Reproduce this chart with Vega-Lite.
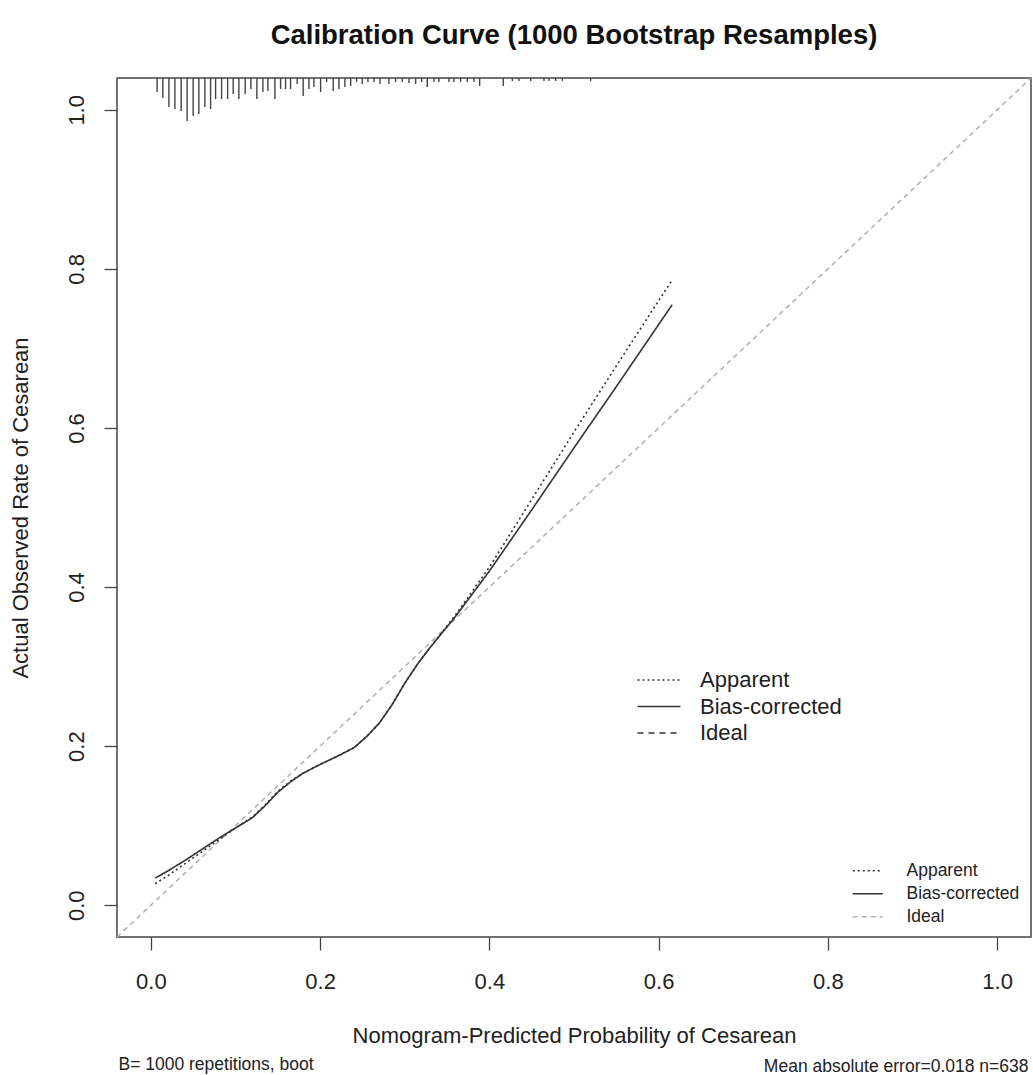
{
  "$schema": "https://vega.github.io/schema/vega-lite/v6.json",
  "width": 914,
  "height": 859,
  "autosize": {"type": "none"},
  "padding": {"left": 117, "top": 78, "right": 2, "bottom": 138},
  "background": "white",
  "title": {
    "text": "Calibration Curve (1000 Bootstrap Resamples)",
    "font": "Liberation Sans",
    "fontSize": 27.5,
    "fontWeight": "bold",
    "color": "#111111",
    "anchor": "middle",
    "baseline": "alphabetic",
    "offset": 6
  },
  "config": {
    "font": "Liberation Sans",
    "view": {"stroke": "#444444", "strokeWidth": 1.5},
    "axis": {"grid": false}
  },
  "resolve": {
    "axis": {"x": "independent"},
    "scale": {"color": "independent", "strokeDash": "independent"},
    "legend": {"color": "independent", "strokeDash": "independent"}
  },
  "datasets": {
    "ideal": [
      {"series": "Ideal", "p": -0.04, "o": -0.04},
      {"series": "Ideal", "p": 1.04, "o": 1.04}
    ],
    "curves": [
      {"series": "Apparent", "p": 0.005, "o": 0.027},
      {"series": "Apparent", "p": 0.02, "o": 0.037},
      {"series": "Apparent", "p": 0.04, "o": 0.052},
      {"series": "Apparent", "p": 0.06, "o": 0.067},
      {"series": "Apparent", "p": 0.08, "o": 0.082},
      {"series": "Apparent", "p": 0.1, "o": 0.097},
      {"series": "Apparent", "p": 0.12, "o": 0.111},
      {"series": "Apparent", "p": 0.135, "o": 0.126},
      {"series": "Apparent", "p": 0.15, "o": 0.143},
      {"series": "Apparent", "p": 0.165, "o": 0.156},
      {"series": "Apparent", "p": 0.18, "o": 0.166},
      {"series": "Apparent", "p": 0.2, "o": 0.177},
      {"series": "Apparent", "p": 0.22, "o": 0.187},
      {"series": "Apparent", "p": 0.24, "o": 0.198},
      {"series": "Apparent", "p": 0.255, "o": 0.212},
      {"series": "Apparent", "p": 0.27, "o": 0.229},
      {"series": "Apparent", "p": 0.285, "o": 0.252},
      {"series": "Apparent", "p": 0.3, "o": 0.279},
      {"series": "Apparent", "p": 0.315, "o": 0.303},
      {"series": "Apparent", "p": 0.33, "o": 0.324},
      {"series": "Apparent", "p": 0.36, "o": 0.365},
      {"series": "Apparent", "p": 0.4, "o": 0.425},
      {"series": "Apparent", "p": 0.45, "o": 0.51},
      {"series": "Apparent", "p": 0.5, "o": 0.595},
      {"series": "Apparent", "p": 0.55, "o": 0.678},
      {"series": "Apparent", "p": 0.6, "o": 0.76},
      {"series": "Apparent", "p": 0.616, "o": 0.786},
      {"series": "Bias-corrected", "p": 0.005, "o": 0.034},
      {"series": "Bias-corrected", "p": 0.02, "o": 0.043},
      {"series": "Bias-corrected", "p": 0.04, "o": 0.056},
      {"series": "Bias-corrected", "p": 0.06, "o": 0.07},
      {"series": "Bias-corrected", "p": 0.08, "o": 0.084},
      {"series": "Bias-corrected", "p": 0.1, "o": 0.097},
      {"series": "Bias-corrected", "p": 0.12, "o": 0.11},
      {"series": "Bias-corrected", "p": 0.135, "o": 0.125},
      {"series": "Bias-corrected", "p": 0.15, "o": 0.142},
      {"series": "Bias-corrected", "p": 0.165, "o": 0.155},
      {"series": "Bias-corrected", "p": 0.18, "o": 0.166},
      {"series": "Bias-corrected", "p": 0.2, "o": 0.177},
      {"series": "Bias-corrected", "p": 0.22, "o": 0.187},
      {"series": "Bias-corrected", "p": 0.24, "o": 0.198},
      {"series": "Bias-corrected", "p": 0.255, "o": 0.212},
      {"series": "Bias-corrected", "p": 0.27, "o": 0.229},
      {"series": "Bias-corrected", "p": 0.285, "o": 0.252},
      {"series": "Bias-corrected", "p": 0.3, "o": 0.279},
      {"series": "Bias-corrected", "p": 0.315, "o": 0.303},
      {"series": "Bias-corrected", "p": 0.33, "o": 0.324},
      {"series": "Bias-corrected", "p": 0.36, "o": 0.363},
      {"series": "Bias-corrected", "p": 0.4, "o": 0.42},
      {"series": "Bias-corrected", "p": 0.45, "o": 0.497},
      {"series": "Bias-corrected", "p": 0.5, "o": 0.575},
      {"series": "Bias-corrected", "p": 0.55, "o": 0.652},
      {"series": "Bias-corrected", "p": 0.6, "o": 0.73},
      {"series": "Bias-corrected", "p": 0.616, "o": 0.755}
    ],
    "rug": [
      {"p": 0.0074, "end": 1.0224},
      {"p": 0.0142, "end": 1.0148},
      {"p": 0.0213, "end": 1.0035},
      {"p": 0.0284, "end": 1.001},
      {"p": 0.0358, "end": 0.9985},
      {"p": 0.0429, "end": 0.9859},
      {"p": 0.05, "end": 0.9922},
      {"p": 0.0567, "end": 0.9947},
      {"p": 0.0638, "end": 1.0035},
      {"p": 0.0706, "end": 1.001},
      {"p": 0.0765, "end": 1.0136},
      {"p": 0.0836, "end": 1.0136},
      {"p": 0.0907, "end": 1.0136},
      {"p": 0.0973, "end": 1.0199},
      {"p": 0.104, "end": 1.0136},
      {"p": 0.1115, "end": 1.0199},
      {"p": 0.1182, "end": 1.0262},
      {"p": 0.1253, "end": 1.0136},
      {"p": 0.1324, "end": 1.0224},
      {"p": 0.1383, "end": 1.0236},
      {"p": 0.1466, "end": 1.0136},
      {"p": 0.1533, "end": 1.0262},
      {"p": 0.1592, "end": 1.0262},
      {"p": 0.1651, "end": 1.0262},
      {"p": 0.1729, "end": 1.0325},
      {"p": 0.18, "end": 1.0174},
      {"p": 0.1868, "end": 1.0262},
      {"p": 0.1927, "end": 1.0287},
      {"p": 0.2006, "end": 1.0224},
      {"p": 0.2077, "end": 1.035},
      {"p": 0.2155, "end": 1.0236},
      {"p": 0.2222, "end": 1.0262},
      {"p": 0.2293, "end": 1.0287},
      {"p": 0.2361, "end": 1.03},
      {"p": 0.2431, "end": 1.035},
      {"p": 0.2498, "end": 1.0325},
      {"p": 0.2565, "end": 1.035},
      {"p": 0.2636, "end": 1.035},
      {"p": 0.2707, "end": 1.0325},
      {"p": 0.2813, "end": 1.0325},
      {"p": 0.2892, "end": 1.035},
      {"p": 0.297, "end": 1.035},
      {"p": 0.305, "end": 1.0337},
      {"p": 0.3129, "end": 1.0325},
      {"p": 0.32, "end": 1.035},
      {"p": 0.3266, "end": 1.0287},
      {"p": 0.3345, "end": 1.035},
      {"p": 0.3404, "end": 1.035},
      {"p": 0.3522, "end": 1.035},
      {"p": 0.3582, "end": 1.035},
      {"p": 0.366, "end": 1.035},
      {"p": 0.3739, "end": 1.035},
      {"p": 0.3818, "end": 1.035},
      {"p": 0.3885, "end": 1.03},
      {"p": 0.4164, "end": 1.03},
      {"p": 0.4271, "end": 1.0362},
      {"p": 0.435, "end": 1.0362},
      {"p": 0.4488, "end": 1.0362},
      {"p": 0.4645, "end": 1.0362},
      {"p": 0.4704, "end": 1.0362},
      {"p": 0.4784, "end": 1.0362},
      {"p": 0.4862, "end": 1.0362},
      {"p": 0.5197, "end": 1.0362}
    ]
  },
  "layer": [
    {
      "data": {"name": "ideal"},
      "mark": {"type": "line", "strokeWidth": 1.5, "clip": true},
      "encoding": {
        "x": {
          "field": "p", "type": "quantitative",
          "scale": {"domain": [-0.04, 1.04], "nice": false, "zero": false},
          "axis": {
            "orient": "bottom", "title": "Mean absolute error=0.018 n=638",
            "domain": false, "ticks": false, "labels": false, "grid": false,
            "titleFontSize": 17.5, "titleFontWeight": "normal", "titleColor": "#222222",
            "titleAnchor": "end", "titleAlign": "right", "titleX": 911, "titleY": 134, "titleBaseline": "alphabetic"
          }
        },
        "y": {
          "field": "o", "type": "quantitative",
          "scale": {"domain": [-0.04, 1.04], "nice": false, "zero": false},
          "axis": {
            "title": "Actual Observed Rate of Cesarean",
            "values": [0, 0.2, 0.4, 0.6, 0.8, 1], "format": ".1f",
            "domain": false, "grid": false, "tickSize": 13, "tickColor": "#444444", "tickWidth": 1.3,
            "labelAngle": 270, "labelAlign": "center", "labelBaseline": "alphabetic", "labelPadding": 21,
            "labelFontSize": 22, "labelColor": "#222222",
            "titleFontSize": 22, "titleFontWeight": "normal", "titleColor": "#222222",
            "titleX": -90, "titleY": 429.5, "titleAngle": 270, "titleBaseline": "alphabetic", "titleAlign": "center"
          }
        },
        "color": {
          "field": "series", "type": "nominal",
          "scale": {"domain": ["Apparent", "Bias-corrected", "Ideal"], "range": ["#333333", "#333333", "#b0b0b0"]},
          "legend": {
            "orient": "bottom-right", "title": null, "offset": 11, "padding": 0,
            "symbolType": "M-3,0H3", "symbolSize": 100, "symbolStrokeWidth": 1.3,
            "labelFontSize": 17.5, "labelColor": "#222222", "labelOffset": 30, "rowPadding": 4
          }
        },
        "strokeDash": {
          "field": "series", "type": "nominal",
          "scale": {"domain": ["Apparent", "Bias-corrected", "Ideal"], "range": [[2, 3], [1, 0], [5, 4]]},
          "legend": {
            "orient": "bottom-right", "title": null, "offset": 11, "padding": 0,
            "symbolType": "M-3,0H3", "symbolSize": 100, "symbolStrokeWidth": 1.3,
            "labelFontSize": 17.5, "labelColor": "#222222", "labelOffset": 30, "rowPadding": 4
          }
        }
      }
    },
    {
      "data": {"name": "curves"},
      "mark": {"type": "line", "strokeWidth": 1.6},
      "encoding": {
        "x": {
          "field": "p", "type": "quantitative",
          "scale": {"domain": [-0.04, 1.04], "nice": false, "zero": false},
          "axis": {
            "orient": "bottom", "title": "Nomogram-Predicted Probability of Cesarean",
            "values": [0, 0.2, 0.4, 0.6, 0.8, 1], "format": ".1f",
            "domain": false, "grid": false, "tickSize": 13, "tickColor": "#444444", "tickWidth": 1.3,
            "labelFlush": false, "labelPadding": 21, "labelBaseline": "top", "labelFontSize": 22, "labelColor": "#222222",
            "titleFontSize": 22, "titleFontWeight": "normal", "titleColor": "#222222",
            "titleY": 105, "titleBaseline": "alphabetic"
          }
        },
        "y": {
          "field": "o", "type": "quantitative",
          "scale": {"domain": [-0.04, 1.04], "nice": false, "zero": false},
          "axis": {
            "title": "Actual Observed Rate of Cesarean",
            "values": [0, 0.2, 0.4, 0.6, 0.8, 1], "format": ".1f",
            "domain": false, "grid": false, "tickSize": 13, "tickColor": "#444444", "tickWidth": 1.3,
            "labelAngle": 270, "labelAlign": "center", "labelBaseline": "alphabetic", "labelPadding": 21,
            "labelFontSize": 22, "labelColor": "#222222",
            "titleFontSize": 22, "titleFontWeight": "normal", "titleColor": "#222222",
            "titleX": -90, "titleY": 429.5, "titleAngle": 270, "titleBaseline": "alphabetic", "titleAlign": "center"
          }
        },
        "color": {
          "field": "series", "type": "nominal",
          "scale": {"domain": ["Apparent", "Bias-corrected", "Ideal"], "range": ["#333333", "#333333", "#333333"]},
          "legend": {
            "orient": "none", "legendX": 531, "legendY": 591, "title": null, "padding": 0,
            "symbolType": "M-3,0H3", "symbolSize": 205, "symbolStrokeWidth": 1.5,
            "labelFontSize": 22, "labelColor": "#222222", "labelOffset": 30, "rowPadding": 4.5
          }
        },
        "strokeDash": {
          "field": "series", "type": "nominal",
          "scale": {"domain": ["Apparent", "Bias-corrected", "Ideal"], "range": [[2, 3], [1, 0], [6, 5]]},
          "legend": {
            "orient": "none", "legendX": 531, "legendY": 591, "title": null, "padding": 0,
            "symbolType": "M-3,0H3", "symbolSize": 205, "symbolStrokeWidth": 1.5,
            "labelFontSize": 22, "labelColor": "#222222", "labelOffset": 30, "rowPadding": 4.5
          }
        }
      }
    },
    {
      "data": {"name": "rug"},
      "mark": {"type": "rule", "stroke": "#444444", "strokeWidth": 1.4},
      "encoding": {
        "x": {
          "field": "p", "type": "quantitative",
          "scale": {"domain": [-0.04, 1.04], "nice": false, "zero": false},
          "axis": {
            "orient": "bottom", "title": "B= 1000 repetitions, boot",
            "domain": false, "ticks": false, "labels": false, "grid": false,
            "titleFontSize": 17.5, "titleFontWeight": "normal", "titleColor": "#222222",
            "titleAnchor": "start", "titleAlign": "left", "titleX": 1, "titleY": 132, "titleBaseline": "alphabetic"
          }
        },
        "y": {
          "field": "end", "type": "quantitative",
          "scale": {"domain": [-0.04, 1.04], "nice": false, "zero": false},
          "axis": {
            "title": "Actual Observed Rate of Cesarean",
            "values": [0, 0.2, 0.4, 0.6, 0.8, 1], "format": ".1f",
            "domain": false, "grid": false, "tickSize": 13, "tickColor": "#444444", "tickWidth": 1.3,
            "labelAngle": 270, "labelAlign": "center", "labelBaseline": "alphabetic", "labelPadding": 21,
            "labelFontSize": 22, "labelColor": "#222222",
            "titleFontSize": 22, "titleFontWeight": "normal", "titleColor": "#222222",
            "titleX": -90, "titleY": 429.5, "titleAngle": 270, "titleBaseline": "alphabetic", "titleAlign": "center"
          }
        },
        "y2": {"datum": 1.04}
      }
    }
  ]
}
